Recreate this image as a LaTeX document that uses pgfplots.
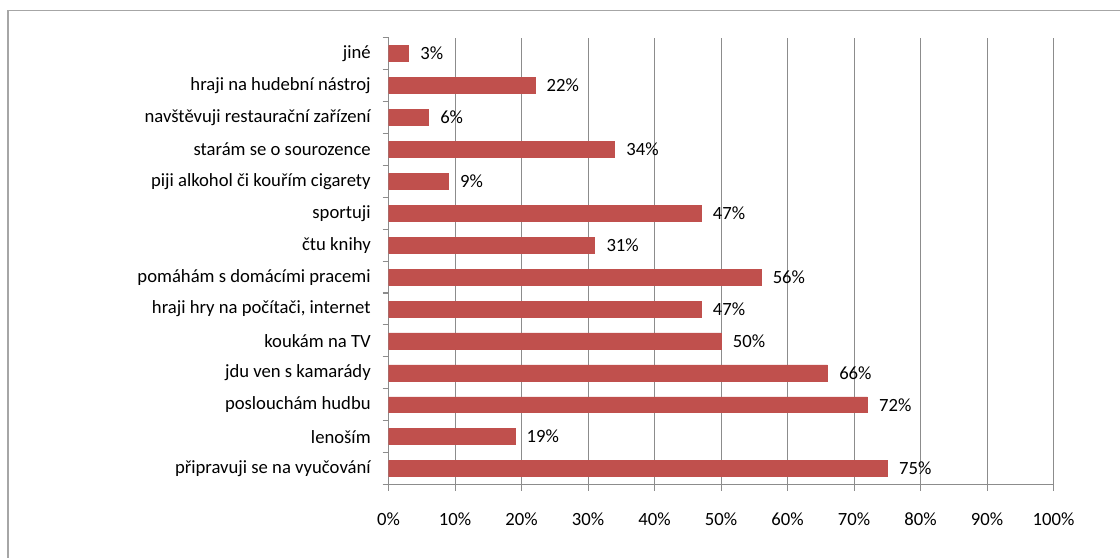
\documentclass[border=0pt]{standalone}
\usepackage{fontspec}
\setmainfont{Carlito}
\usepackage{pgfplots}
\pgfplotsset{compat=1.18}
\definecolor{barred}{HTML}{C0504D}
\definecolor{gridgray}{HTML}{8C8C8C}
\definecolor{framegray}{HTML}{A6A6A6}
\begin{document}
\fontsize{14}{16}\selectfont
\begin{tikzpicture}
\useasboundingbox (0,0) rectangle (840pt,417.75pt);
\draw[framegray, line width=1pt] (6pt,-10pt) -- (6pt,409.7pt) -- (850pt,409.7pt);
\begin{axis}[
  at={(291.4pt,54.3pt)}, anchor=south west,
  scale only axis, width=498.75pt, height=335.25pt,
  xbar, bar width=0.5,
  xmin=0, xmax=100, ymin=0.5, ymax=14.5,
  xtick={0,10,...,100},
  xticklabel={\pgfmathprintnumber{\tick}\%},
  ytick={1,...,14},
  yticklabels={připravuji se na vyučování, lenoším\ , poslouchám hudbu,
    jdu ven s kamarády, koukám na TV\ , {hraji hry na počítači, internet},
    pomáhám s domácími pracemi, čtu knihy, sportuji,
    piji alkohol  či kouřím cigarety, starám se o sourozence,
    navštěvuji restaurační zařízení\ , hraji na hudební nástroj, jiné\ },
  minor ytick={0.5,1.5,...,14.5},
  major y tick style={draw=none},
  tick align=outside,
  major tick length=4.5pt, minor tick length=4.5pt,
  axis lines*=left,
  axis line style={gridgray, line width=0.8pt},
  tick style={gridgray, line width=0.8pt},
  xmajorgrids, grid style={gridgray, line width=0.8pt},
  /pgf/number format/assume math mode=true,
  ticklabel style={font=\fontsize{14}{16}\selectfont, text=black},
  yticklabel style={xshift=-4pt},
  xticklabel style={yshift=-12pt},
  nodes near coords={\pgfmathprintnumber{\pgfplotspointmeta}\%},
  nodes near coords style={font=\fontsize{14}{16}\selectfont, text=black, anchor=west, xshift=4pt},
  point meta=x,
]
\addplot[fill=barred, draw=barred] coordinates {
  (75,1) (19,2) (72,3) (66,4) (50,5) (47,6) (56,7)
  (31,8) (47,9) (9,10) (34,11) (6,12) (22,13) (3,14)
};
\end{axis}
\end{tikzpicture}
\end{document}
